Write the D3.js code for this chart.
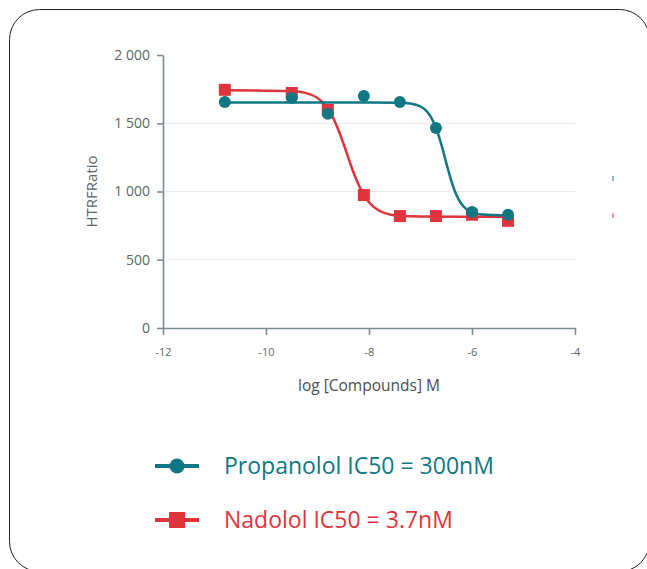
<!doctype html>
<html lang="en">
<head>
  <meta charset="utf-8">
  <title>HTRF ratio vs log [Compounds]</title>
  <script src="https://d3js.org/d3.v7.min.js"></script>
  <style>
    body { margin: 0; background: #fff; }
    text { font-family: "Open Sans", "Noto Sans", sans-serif; }
  </style>
</head>
<body>
<div id="my_dataviz"></div>
<script>
  // measured points (log M, HTRF ratio)
  var doseX = [-10.8, -9.5, -8.8, -8.1, -7.4, -6.7, -6.0, -5.3];
  var propanololY = [1655, 1685, 1570, 1700, 1655, 1465, 850, 830];
  var nadololY = [1745, 1722, 1597, 974, 820, 820, 830, 785];

  // fitted curves
  var propFitX = [-10.8, -8.0, -7.4, -7.2, -7.0, -6.9, -6.8, -6.7, -6.6, -6.5, -6.4, -6.3, -6.2, -6.1, -6.0, -5.8, -5.3];
  var propFitY = [1652, 1652, 1650, 1645, 1623, 1596, 1547, 1467, 1350, 1210, 1076, 973, 907, 868, 847, 831, 825];
  var nadoFitX = [-10.8, -9.5, -9.2, -9.0, -8.9, -8.8, -8.7, -8.6, -8.5, -8.4, -8.3, -8.2, -8.1, -8.0, -7.8, -7.6, -7.4, -7.0, -5.3];
  var nadoFitY = [1742, 1736, 1719, 1685, 1653, 1607, 1542, 1456, 1355, 1245, 1139, 1047, 975, 921, 859, 832, 822, 816, 815];

  var xTicks = [-12, -10, -8, -6, -4];
  var yTicks = [0, 500, 1000, 1500, 2000];
  var legendLabels = ["Propanolol IC50 = 300nM", "Nadolol IC50 = 3.7nM"];

  var teal = "#117784", red = "#df343b";

  var svg = d3.select("#my_dataviz")
      .append("svg")
      .attr("width", 647)
      .attr("height", 569);

  // frame
  svg.append("rect")
      .attr("x", 9.5).attr("y", 9.5)
      .attr("width", 640).attr("height", 562)
      .attr("rx", 30)
      .attr("fill", "none")
      .attr("stroke", "#222")
      .attr("stroke-width", 1);

  var x = d3.scaleLinear().domain([-12, -4]).range([163, 575]);
  var y = d3.scaleLinear().domain([0, 2000]).range([328, 55]);

  // gridlines
  svg.append("g")
      .selectAll("line")
      .data([500, 1000, 1500])
      .enter().append("line")
      .attr("x1", x(-12)).attr("x2", x(-4))
      .attr("y1", function (d) { return y(d); })
      .attr("y2", function (d) { return y(d); })
      .attr("stroke", "#e9e9e9");

  var fmt = function (d) { return d >= 1000 ? d3.format(",")(d).replace(",", " ") : String(d); };

  var yAxis = svg.append("g")
      .attr("transform", "translate(" + x(-12) + ",0)")
      .call(d3.axisLeft(y).tickValues(yTicks).tickFormat(fmt).tickSize(6).tickSizeOuter(0).tickPadding(7));
  yAxis.selectAll("text").attr("font-size", 14).attr("fill", "#5c6468");

  var xAxis = svg.append("g")
      .attr("transform", "translate(0," + y(0) + ")")
      .call(d3.axisBottom(x).tickValues(xTicks).tickFormat(function (d) { return String(d); }).tickSize(7).tickSizeOuter(0).tickPadding(13));
  xAxis.selectAll("text").attr("font-size", 11).attr("fill", "#5c6468");

  svg.selectAll(".domain, .tick line").attr("stroke", "#7d8c92").attr("stroke-width", 1.6);

  svg.append("text")
      .attr("transform", "translate(97," + y(1000) + ") rotate(-90)")
      .attr("text-anchor", "middle")
      .attr("font-size", 15)
      .attr("fill", "#5c6468")
      .text("HTRFRatio");

  svg.append("text")
      .attr("x", 369).attr("y", 391)
      .attr("text-anchor", "middle")
      .attr("font-size", 15.5)
      .attr("fill", "#4a4f52")
      .text("log [Compounds] M");

  var line = d3.line()
      .x(function (d) { return x(d[0]); })
      .y(function (d) { return y(d[1]); })
      .curve(d3.curveMonotoneX);

  svg.append("path")
      .datum(d3.zip(nadoFitX, nadoFitY))
      .attr("d", line)
      .attr("fill", "none").attr("stroke", red).attr("stroke-width", 2.5);

  svg.append("path")
      .datum(d3.zip(propFitX, propFitY))
      .attr("d", line)
      .attr("fill", "none").attr("stroke", teal).attr("stroke-width", 2.5);

  svg.append("g")
      .selectAll("rect")
      .data(d3.zip(doseX, nadololY))
      .enter().append("rect")
      .attr("x", function (d) { return x(d[0]) - 6; })
      .attr("y", function (d) { return y(d[1]) - 6; })
      .attr("width", 12).attr("height", 12)
      .attr("fill", red);

  svg.append("g")
      .selectAll("circle")
      .data(d3.zip(doseX, propanololY))
      .enter().append("circle")
      .attr("cx", function (d) { return x(d[0]); })
      .attr("cy", function (d) { return y(d[1]); })
      .attr("r", 6)
      .attr("fill", teal);

  // legend
  var leg = svg.append("g");
  [teal, red].forEach(function (c, i) {
    var ly = 466 + i * 54;
    leg.append("line")
        .attr("x1", 155).attr("x2", 199)
        .attr("y1", ly).attr("y2", ly)
        .attr("stroke", c).attr("stroke-width", 4);
    if (i === 0) {
      leg.append("circle").attr("cx", 177).attr("cy", ly).attr("r", 7.5).attr("fill", c);
    } else {
      leg.append("rect").attr("x", 169).attr("y", ly - 8).attr("width", 16).attr("height", 16).attr("fill", c);
    }
    leg.append("text")
        .attr("x", 224).attr("y", ly + 8)
        .attr("font-size", 23)
        .attr("fill", c)
        .text(legendLabels[i]);
  });

  // small stray marks at right edge
  [[teal, 176], [red, 213]].forEach(function (m) {
    svg.append("line")
        .attr("x1", 613).attr("x2", 613)
        .attr("y1", m[1]).attr("y2", m[1] + 5)
        .attr("stroke", m[0]).attr("stroke-width", 1);
  });
</script>
</body>
</html>
